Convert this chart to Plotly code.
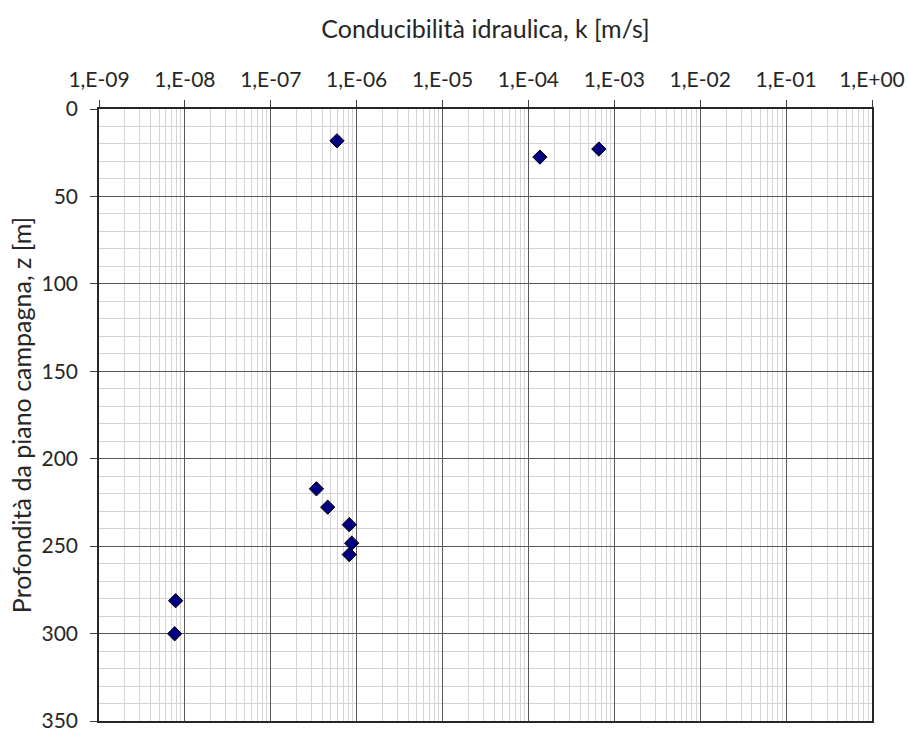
import plotly.graph_objects as go

k_values = [5.9e-7, 1.36e-4, 6.6e-4, 3.4e-7, 4.6e-7, 8.2e-7, 8.75e-7, 8.2e-7, 7.8e-9, 7.6e-9]
z_values = [18.2, 27.5, 22.9, 217.2, 227.7, 237.7, 248.3, 254.8, 281.2, 300.1]

x_tickvals = [1e-9, 1e-8, 1e-7, 1e-6, 1e-5, 1e-4, 1e-3, 1e-2, 1e-1, 1e0]
x_ticktext = ["1,E-09", "1,E-08", "1,E-07", "1,E-06", "1,E-05",
              "1,E-04", "1,E-03", "1,E-02", "1,E-01", "1,E+00"]
x_minor = [m * d for d in x_tickvals[:-1] for m in range(2, 10)]

font = "Lato"

fig = go.Figure()
fig.add_trace(go.Scatter(
    x=k_values, y=z_values, mode="markers",
    marker=dict(symbol="diamond", size=11, color="#000080",
                line=dict(color="black", width=1)),
    showlegend=False,
))

fig.update_layout(
    width=908, height=733,
    margin=dict(l=99, r=36, t=109, b=12),
    paper_bgcolor="white", plot_bgcolor="white",
    font=dict(family=font, size=21, color="#262626"),
)
fig.update_xaxes(
    type="log", side="top", range=[-9, 0], automargin=False,
    tickmode="array", tickvals=x_tickvals, ticktext=x_ticktext,
    ticks="outside", ticklen=7, tickcolor="#404040", ticklabelstandoff=5,
    showgrid=True, gridcolor="#595959", gridwidth=1,
    showline=True, linecolor="#262626", linewidth=1.5, mirror=True,
    zeroline=False,
    minor=dict(tickmode="array", tickvals=x_minor, showgrid=True,
               gridcolor="#d4d4d4", gridwidth=1, ticks=""),
    title=dict(text="Conducibilità idraulica, k [m/s]", font=dict(size=25), standoff=20),
    tickfont=dict(size=21),
)
fig.update_yaxes(
    range=[350, 0], tickmode="linear", tick0=0, dtick=50, automargin=False,
    ticks="outside", ticklen=7, tickcolor="#404040", ticklabelstandoff=8,
    showgrid=True, gridcolor="#595959", gridwidth=1,
    showline=True, linecolor="#262626", linewidth=1.5, mirror=True,
    zeroline=False,
    minor=dict(dtick=10, showgrid=True, gridcolor="#d4d4d4", gridwidth=1, ticks=""),
    title=dict(text="Profondità da piano campagna, z [m]", font=dict(size=25), standoff=3),
    tickfont=dict(size=21),
)

fig.write_html("out.html")
